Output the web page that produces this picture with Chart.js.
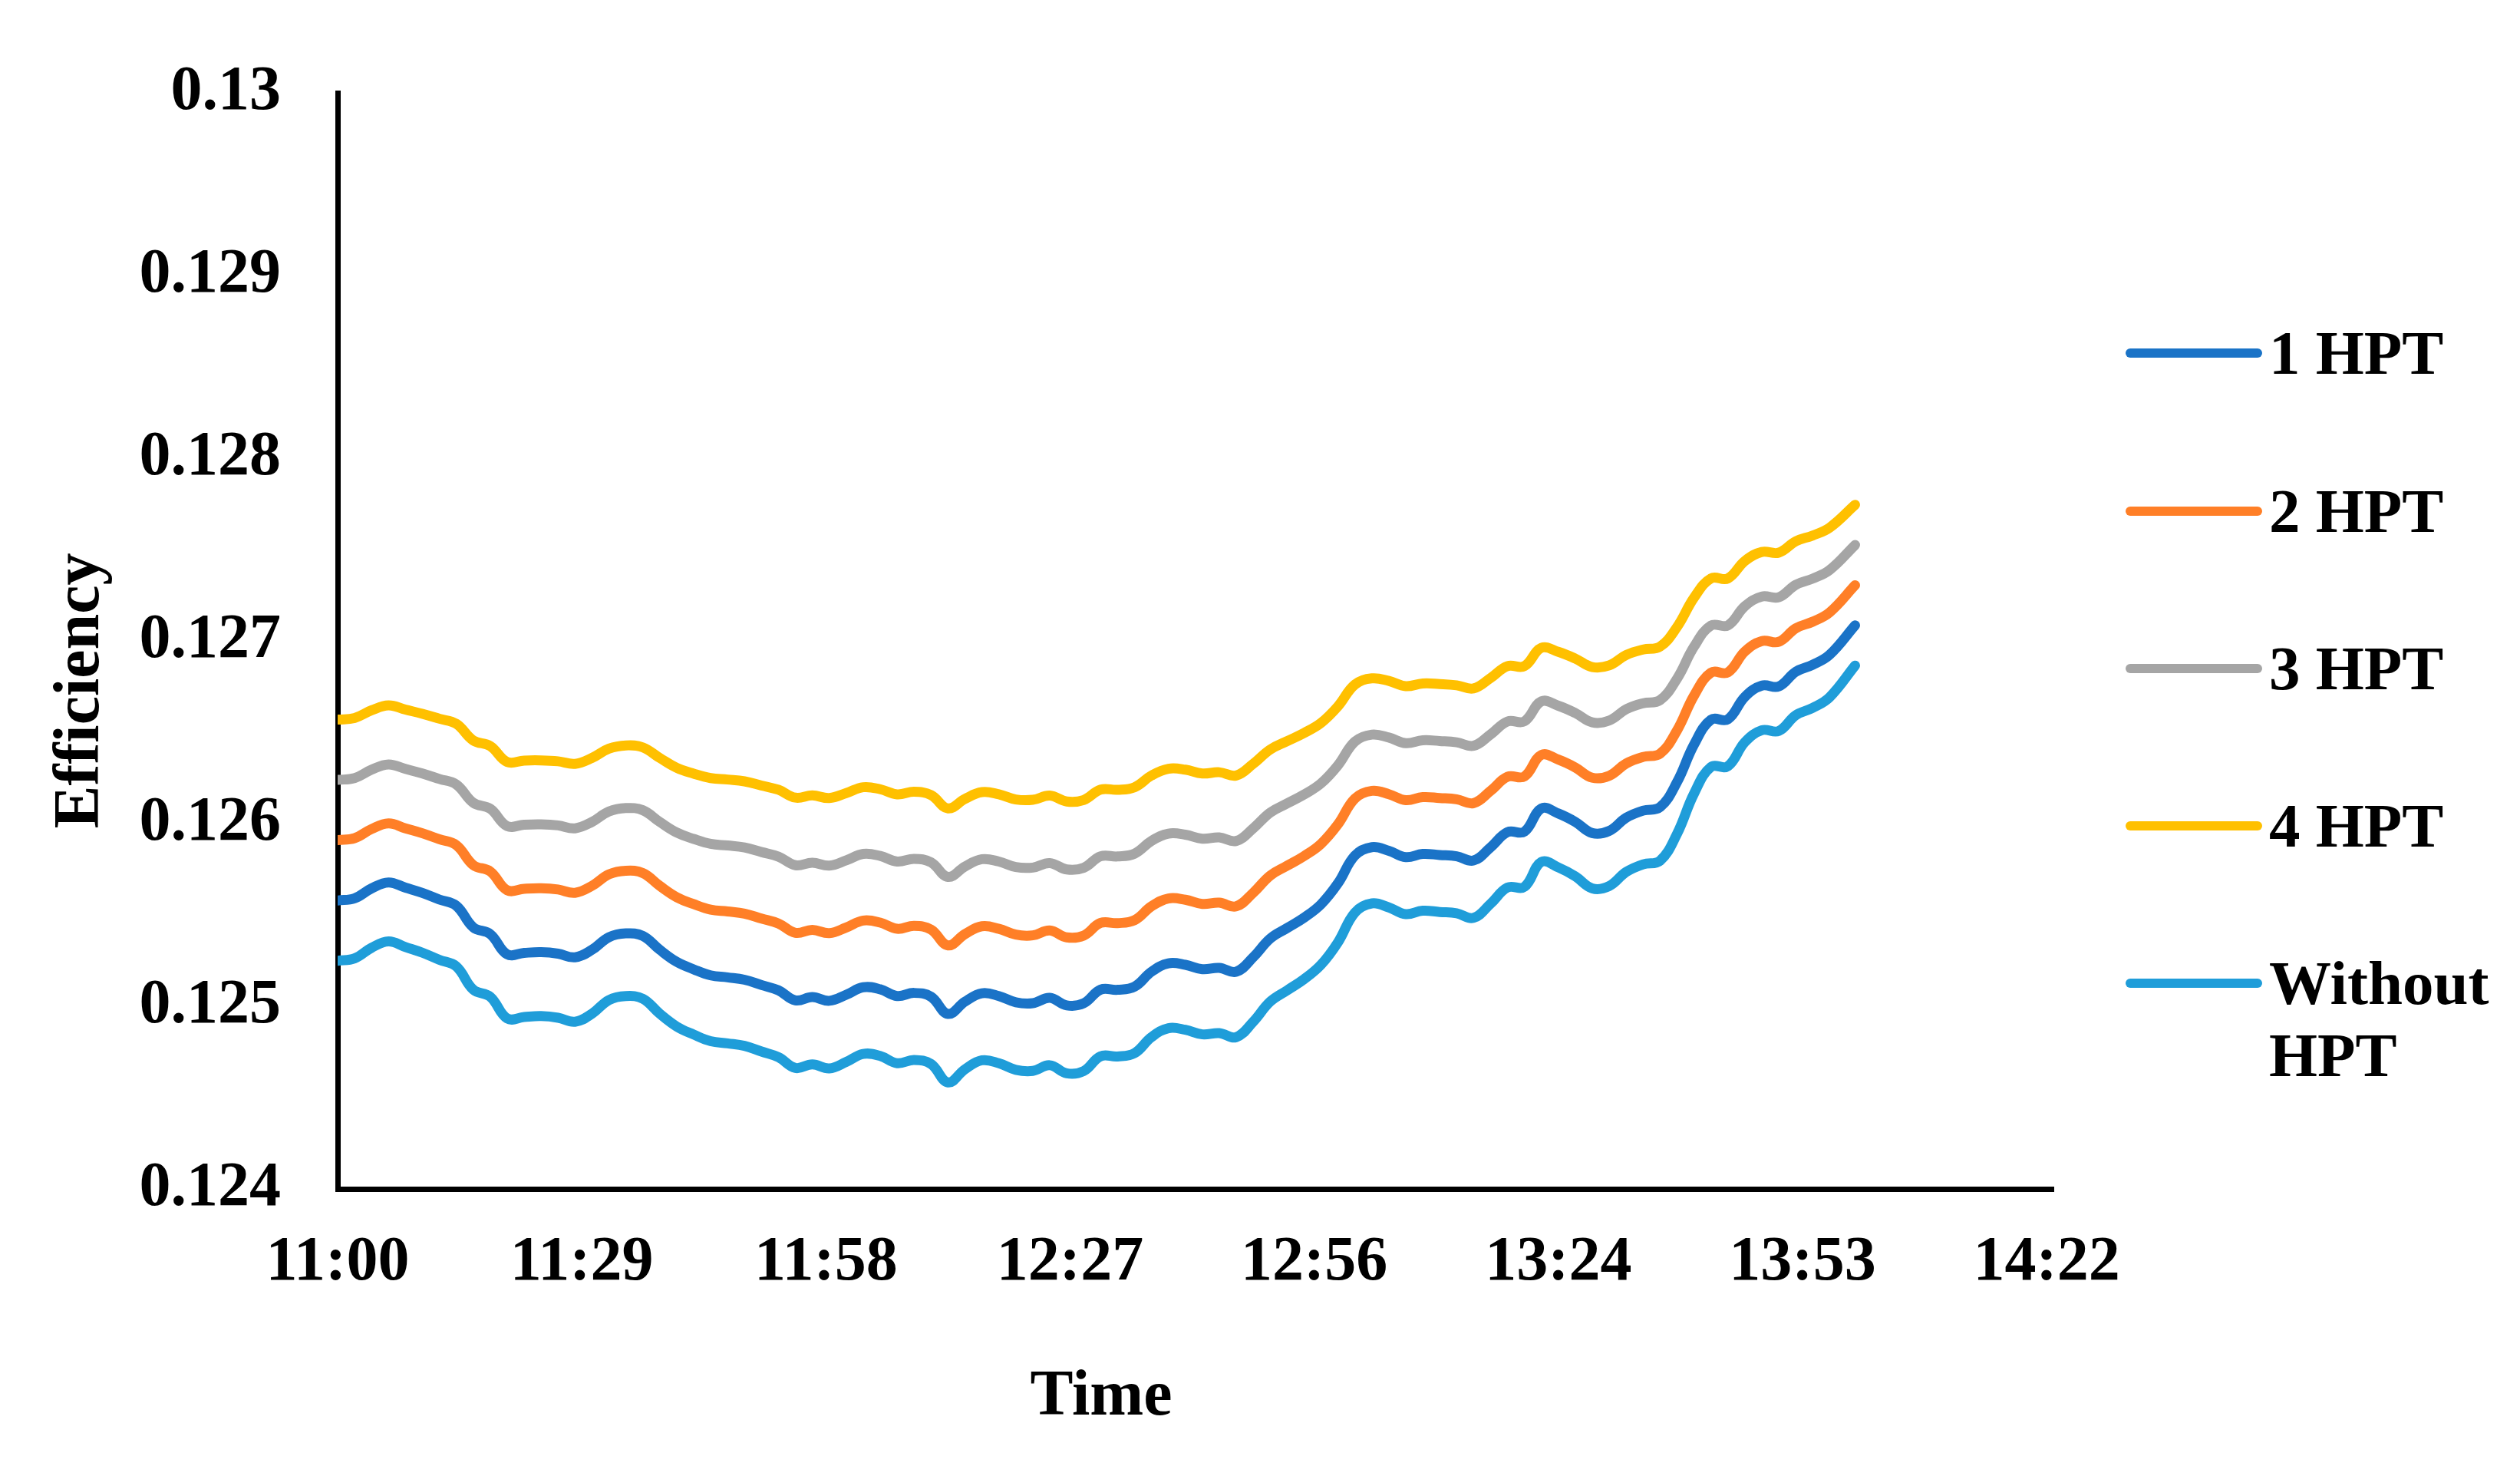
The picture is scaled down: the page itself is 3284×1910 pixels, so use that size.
<!DOCTYPE html>
<html>
<head>
<meta charset="utf-8">
<title>Efficiency vs Time</title>
<script src="https://cdn.jsdelivr.net/npm/chart.js@4.4.1/dist/chart.umd.min.js"></script>
<style>
  html, body { margin: 0; padding: 0; background: #fff; }
  #wrap { width: 3284px; height: 1910px; }
</style>
</head>
<body>
<div id="wrap"><canvas id="myChart" width="3284" height="1910"></canvas></div>
<script>
// ---------------- DATA ----------------
// minutes after 11:00
const minutesAfter11 = [0,2,4,6,8,10,12,14,16,18,20,22,24,26,28,30,32,34,36,38,
    40,42,44,46,48,50,52,54,56,58,60,62,64,66,68,70,72,74,76,78,
    80,82,84,86,88,90,92,94,96,98,100,102,104,106,108,110,112,114,116,118,
    120,122,124,126,128,130,132,134,136,138,140,142,144,146,148,150,152,154,156,158,
    160,162,164,166,168,170,172,174,176,179];

const hpt1 = [
    0.125579,0.125591,0.125645,0.125678,0.125649,0.125620,0.125584,0.125550,0.125432,0.125395,
    0.125284,0.125292,0.125296,0.125288,0.125268,0.125309,0.125378,0.125399,0.125385,0.125309,
    0.125243,0.125202,0.125169,0.125158,0.125145,0.125116,0.125087,0.125032,0.125050,0.125030,
    0.125063,0.125104,0.125093,0.125056,0.125073,0.125052,0.124958,0.125025,0.125071,0.125056,
    0.125022,0.125017,0.125046,0.125005,0.125016,0.125091,0.125090,0.125107,0.125189,0.125235,
    0.125227,0.125203,0.125210,0.125189,0.125268,0.125370,0.125428,0.125485,0.125558,0.125673,
    0.125825,0.125871,0.125851,0.125816,0.125834,0.125828,0.125821,0.125798,0.125870,0.125953,
    0.125956,0.126083,0.126055,0.126009,0.125948,0.125960,0.126032,0.126071,0.126090,0.126227,
    0.126432,0.126568,0.126571,0.126694,0.126755,0.126751,0.126831,0.126869,0.126924,0.127085];

const hpt2 = [
    0.125909,0.125920,0.125970,0.126001,0.125974,0.125947,0.125914,0.125882,0.125773,0.125738,
    0.125635,0.125643,0.125646,0.125639,0.125621,0.125659,0.125722,0.125742,0.125729,0.125659,
    0.125597,0.125559,0.125529,0.125519,0.125507,0.125480,0.125453,0.125402,0.125418,0.125400,
    0.125431,0.125469,0.125458,0.125424,0.125440,0.125420,0.125333,0.125395,0.125438,0.125424,
    0.125392,0.125388,0.125415,0.125377,0.125387,0.125456,0.125455,0.125471,0.125547,0.125590,
    0.125583,0.125560,0.125567,0.125547,0.125621,0.125715,0.125769,0.125822,0.125889,0.125996,
    0.126137,0.126179,0.126161,0.126128,0.126145,0.126140,0.126133,0.126112,0.126179,0.126256,
    0.126258,0.126376,0.126350,0.126307,0.126251,0.126262,0.126329,0.126365,0.126383,0.126510,
    0.126700,0.126826,0.126828,0.126942,0.126999,0.126995,0.127069,0.127105,0.127156,0.127305];

const hpt3 = [
    0.126239,0.126249,0.126295,0.126324,0.126299,0.126274,0.126244,0.126214,0.126114,0.126081,
    0.125986,0.125994,0.125996,0.125990,0.125974,0.126009,0.126066,0.126085,0.126073,0.126009,
    0.125951,0.125916,0.125889,0.125880,0.125869,0.125844,0.125819,0.125772,0.125786,0.125770,
    0.125799,0.125834,0.125823,0.125792,0.125807,0.125788,0.125708,0.125765,0.125805,0.125792,
    0.125762,0.125759,0.125784,0.125749,0.125758,0.125821,0.125820,0.125835,0.125905,0.125945,
    0.125939,0.125917,0.125924,0.125905,0.125974,0.126060,0.126110,0.126159,0.126220,0.126319,
    0.126449,0.126487,0.126471,0.126440,0.126456,0.126452,0.126445,0.126426,0.126488,0.126559,
    0.126560,0.126669,0.126645,0.126605,0.126554,0.126564,0.126626,0.126659,0.126676,0.126793,
    0.126968,0.127084,0.127085,0.127190,0.127243,0.127239,0.127307,0.127341,0.127388,0.127525];

const hpt4 = [
    0.126569,0.126578,0.126620,0.126647,0.126624,0.126601,0.126574,0.126546,0.126455,0.126424,
    0.126337,0.126345,0.126346,0.126341,0.126327,0.126359,0.126410,0.126428,0.126417,0.126359,
    0.126305,0.126273,0.126249,0.126241,0.126231,0.126208,0.126185,0.126142,0.126154,0.126140,
    0.126167,0.126199,0.126188,0.126160,0.126174,0.126156,0.126083,0.126135,0.126172,0.126160,
    0.126132,0.126130,0.126153,0.126121,0.126129,0.126186,0.126185,0.126199,0.126263,0.126300,
    0.126295,0.126274,0.126281,0.126263,0.126327,0.126405,0.126451,0.126496,0.126551,0.126642,
    0.126761,0.126795,0.126781,0.126752,0.126767,0.126764,0.126757,0.126740,0.126797,0.126862,
    0.126862,0.126962,0.126940,0.126903,0.126857,0.126866,0.126923,0.126953,0.126969,0.127076,
    0.127236,0.127342,0.127342,0.127438,0.127487,0.127483,0.127545,0.127577,0.127620,0.127745];

const withoutHpt = [
    0.125249,0.125262,0.125320,0.125355,0.125324,0.125293,0.125254,0.125218,0.125091,0.125052,
    0.124933,0.124941,0.124946,0.124937,0.124915,0.124959,0.125034,0.125056,0.125041,0.124959,
    0.124889,0.124845,0.124809,0.124797,0.124783,0.124752,0.124721,0.124662,0.124682,0.124660,
    0.124695,0.124739,0.124728,0.124688,0.124706,0.124684,0.124583,0.124655,0.124704,0.124688,
    0.124652,0.124646,0.124677,0.124633,0.124645,0.124726,0.124725,0.124743,0.124831,0.124880,
    0.124871,0.124846,0.124853,0.124831,0.124915,0.125025,0.125087,0.125148,0.125227,0.125350,
    0.125513,0.125563,0.125541,0.125504,0.125523,0.125516,0.125509,0.125484,0.125561,0.125650,
    0.125654,0.125790,0.125760,0.125711,0.125645,0.125658,0.125735,0.125777,0.125797,0.125944,
    0.126164,0.126310,0.126314,0.126446,0.126511,0.126507,0.126593,0.126633,0.126692,0.126865];

const seriesNames = ["1 HPT", "2 HPT", "3 HPT", "4 HPT", "Without\nHPT"];
const seriesValues = [hpt1, hpt2, hpt3, hpt4, withoutHpt];
const seriesColors = ["#1A73C7", "#FF7F27", "#A5A5A5", "#FFC000", "#1F9DD9"];

// x axis: ticks every 0.02 day (28.8 min) from 11:00
const xTickMinutes = [0, 28.8, 57.6, 86.4, 115.2, 144, 172.8, 201.6];
const xTickLabels = ["11:00", "11:29", "11:58", "12:27", "12:56", "13:24", "13:53", "14:22"];
const yTicks = [0.124, 0.125, 0.126, 0.127, 0.128, 0.129, 0.13];

const xTitle = "Time";
const yTitle = "Efficiency";

const FONT = "'Liberation Serif', 'Times New Roman', serif";

// ---------------- TITLES + LEGEND ----------------
const extrasPlugin = {
    id: "extras",
    afterDraw(chart) {
        const c = chart.ctx;
        c.save();
        c.fillStyle = "#000";
        c.font = "bold 84px " + FONT;
        c.textAlign = "center";
        c.textBaseline = "alphabetic";
        c.fillText(xTitle, 1435, 1843);

        c.save();
        c.translate(128, 900);
        c.rotate(-Math.PI / 2);
        c.fillText(yTitle, 0, 0);
        c.restore();

        // legend on the right
        const rowY = [460, 666, 871, 1076, 1281];
        c.font = "bold 81px " + FONT;
        c.textAlign = "left";
        chart.data.datasets.forEach((ds, i) => {
            const y = rowY[i];
            c.strokeStyle = ds.borderColor;
            c.lineWidth = 12;
            c.lineCap = "round";
            c.beginPath();
            c.moveTo(2776, y);
            c.lineTo(2942, y);
            c.stroke();
            ds.label.split("\n").forEach((line, k) => {
                c.fillText(line, 2957, y + 27 + k * 94);
            });
        });
        c.restore();
    }
};

// ---------------- CHART ----------------
const ctx = document.getElementById("myChart").getContext("2d");

const chart = new Chart(ctx, {
    type: "line",
    data: {
        datasets: seriesNames.map((name, i) => ({
            label: name,
            data: minutesAfter11.map((m, j) => ({ x: m, y: seriesValues[i][j] })),
            borderColor: seriesColors[i],
            backgroundColor: seriesColors[i],
            borderWidth: 13,
            borderCapStyle: "round",
            borderJoinStyle: "round",
            pointRadius: 0,
            tension: 0.4,
            fill: false
        }))
    },
    options: {
        responsive: false,
        animation: false,
        devicePixelRatio: 1,
        layout: { padding: { left: 0, top: 121, right: 608, bottom: 0 } },
        plugins: {
            legend: { display: false },
            tooltip: { enabled: false }
        },
        scales: {
            x: {
                type: "linear",
                min: 0,
                max: 202.4,
                afterFit: (s) => { s.height = 361; },
                afterBuildTicks: (s) => { s.ticks = xTickMinutes.map(v => ({ value: v })); },
                grid: { display: false, drawTicks: false },
                border: { display: true, color: "#000", width: 7 },
                ticks: {
                    autoSkip: false,
                    maxRotation: 0,
                    padding: 56,
                    color: "#000",
                    font: { family: FONT, size: 82, weight: "bold", lineHeight: 1 },
                    callback: (v, i) => xTickLabels[i]
                }
            },
            y: {
                min: 0.124,
                max: 0.13,
                afterFit: (s) => { s.width = 440; },
                afterBuildTicks: (s) => { s.ticks = yTicks.map(v => ({ value: v })); },
                grid: { display: false, drawTicks: false },
                border: { display: true, color: "#000", width: 7 },
                ticks: {
                    padding: 74,
                    color: "#000",
                    font: { family: FONT, size: 82, weight: "bold", lineHeight: 1 },
                    callback: (v) => String(+Number(v).toFixed(3))
                }
            }
        }
    },
    plugins: [extrasPlugin]
});
</script>
</body>
</html>
